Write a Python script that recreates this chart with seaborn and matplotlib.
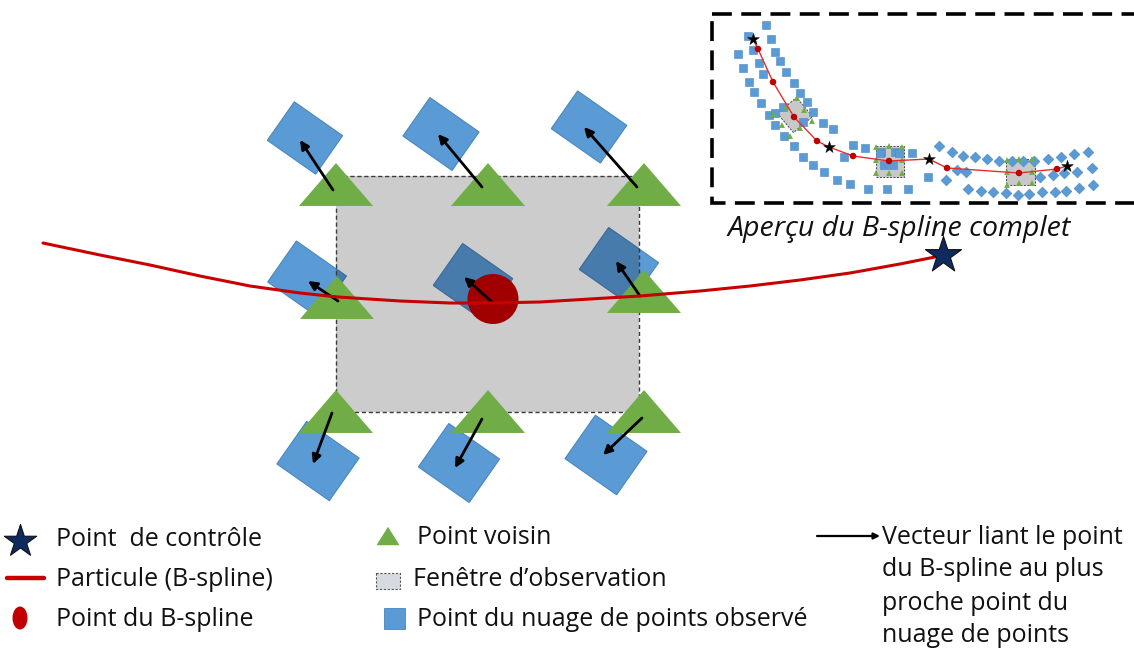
import numpy as np
import pandas as pd
import matplotlib
matplotlib.use("Agg")
import matplotlib.pyplot as plt
from matplotlib.patches import Rectangle, Ellipse
import seaborn as sns

sns.set_theme(style="white")
plt.rcParams["font.family"] = ["Open Sans", "DejaVu Sans"]

# ---------------- data (pixel-space coordinates) ----------------
# observation window
win_x0, win_y0, win_x1, win_y1 = 336, 176, 639, 412

# neighbour points (green triangles)
tri_x = [336, 488, 644, 337, 644, 336, 488, 644]
tri_y = [184.5, 184.5, 184.5, 297.5, 291.5, 411.5, 411.5, 411.5]

# observed point-cloud points (blue rotated squares): centre, width, height
sq_x = [305, 441, 589, 307, 473, 619, 318, 459, 606]
sq_y = [138, 134, 127, 279, 282, 266, 461, 463, 455]
sq_w = [59, 60, 60, 61, 61, 61, 64, 62, 63]
sq_h = [47, 47, 46, 50, 51, 51, 52, 53, 53]
sq_angle = [35, 35, 35, 35, 35, 35, 35, 35, 35]

# vectors from B-spline / neighbour point to nearest cloud point
arr_x0 = [333, 482, 637, 338, 492, 640, 332, 482, 642]
arr_y0 = [190, 187, 187, 301, 302, 296, 413, 419, 418]
arr_x1 = [300, 438, 584, 308, 464, 616, 313, 455, 603]
arr_y1 = [140, 134, 127, 281, 277, 261, 464, 468, 455]

# particle (B-spline) curve
curve_x = [43, 100, 150, 200, 250, 300, 338, 400, 450, 492, 540, 590, 640, 700, 750,
           800, 850, 900, 935]
curve_y = [243, 255, 265, 276, 286, 293, 297, 301, 303, 303, 302, 299, 296, 291, 286,
           280, 273, 264, 257]

# B-spline point and control point
bsp_x, bsp_y = 493, 299
ctrl_x, ctrl_y = [943], [255]

# ---------------- inset data ----------------
ins_curve_x = [753, 758, 773, 794, 817, 829, 853, 889, 929, 947, 1019, 1057, 1067]
ins_curve_y = [39, 49, 82, 117, 141, 147, 156, 161, 159, 168, 173, 169, 166]
ins_star_x = [753, 829, 929, 1067]
ins_star_y = [39, 147, 159, 166]
ins_dot_x = [758, 773, 794, 817, 853, 889, 947, 1019, 1057]
ins_dot_y = [49, 82, 117, 141, 156, 161, 168, 173, 169]

ins_sq_x = [766, 771, 775, 780, 786, 794, 800, 807, 813, 823, 833, 853, 865, 881, 895, 912,
            738, 748, 753, 743, 759, 749, 763, 754, 761, 769, 775, 784, 794, 803, 813, 824,
            837, 850, 868, 887, 908, 928, 844, 880, 899, 884, 893, 783, 775, 803]
ins_sq_y = [25, 39, 52, 61, 72, 83, 93, 102, 112, 123, 129, 145, 148, 152, 152, 153,
            54, 36, 50, 68, 63, 82, 74, 92, 103, 115, 125, 136, 146, 157, 165, 172,
            180, 184, 189, 189, 189, 177, 157, 153, 153, 165, 165, 107, 113, 122]
ins_dm_x = [939, 952, 963, 975, 987, 999, 1012, 1023, 1034, 1048, 1061, 1074, 1088,
            957, 966, 1040, 1053, 1064, 1077, 1092,
            946, 968, 981, 993, 1006, 1018, 1029, 1042, 1055, 1066, 1079, 1093]
ins_dm_y = [146, 152, 156, 157, 159, 161, 161, 161, 161, 159, 157, 154, 152,
            170, 172, 177, 175, 173, 172, 168,
            180, 189, 191, 192, 193, 195, 194, 192, 192, 191, 188, 185]
ins_tri_x = [876, 889, 902, 876, 889, 902, 876, 902,
             797, 804, 812, 800, 790, 782, 773, 786,
             1007, 1019, 1032, 1007, 1019, 1032, 1032, 1007]
ins_tri_y = [147, 146, 147, 173, 173, 173, 160, 160,
             98, 110, 121, 128, 136, 125, 114, 107,
             160, 159, 159, 185, 183, 183, 172, 172]
# inset windows: centre x, centre y, size, angle
ins_win_x = [795, 890, 1020]
ins_win_y = [115, 161, 172]
ins_win_w = [25, 28, 29]
ins_win_h = [25, 31, 26]
ins_win_a = [-40, 0, 0]

# ---------------- text ----------------
inset_title = "Aperçu du B-spline complet"
legend_labels = ["Point  de contrôle", "Particule (B-spline)", "Point du B-spline",
                 "Point voisin", "Fenêtre d’observation", "Point du nuage de points observé"]
vector_label = ["Vecteur liant le point", "du B-spline au plus", "proche point du", "nuage de points"]

# ---------------- colours ----------------
BLUE = "#5B9BD5"
BLUE_EDGE = "#4A86BE"
BLUE_DARK = "#477BAC"
GREEN = "#70AD47"
GRAY = "#CCCCCC"
RED = "#C80000"
DARKRED = "#A00000"
NAVY = "#0E2A5E"

fig = plt.figure(figsize=(11.34, 6.55), dpi=100)
ax = fig.add_axes([0, 0, 1, 1])
ax.set_xlim(0, 1134)
ax.set_ylim(655, 0)
ax.axis("off")

# observation window
win = Rectangle((win_x0, win_y0), win_x1 - win_x0, win_y1 - win_y0,
                facecolor=GRAY, edgecolor="none", zorder=1)
ax.add_patch(win)
win_edge = Rectangle((win_x0, win_y0), win_x1 - win_x0, win_y1 - win_y0,
                     facecolor="none", edgecolor="#3a3a3a", lw=1.0, ls=(0, (3, 2)), zorder=2.6)
ax.add_patch(win_edge)

# blue squares
clip_rect = Rectangle((win_x0, win_y0), win_x1 - win_x0, win_y1 - win_y0,
                      transform=ax.transData, facecolor="none", edgecolor="none")
for cx, cy, w, h, a in zip(sq_x, sq_y, sq_w, sq_h, sq_angle):
    r = Rectangle((cx - w / 2, cy - h / 2), w, h, angle=a, rotation_point="center",
                  facecolor=BLUE, edgecolor=BLUE_EDGE, lw=0.8, zorder=2)
    ax.add_patch(r)
    r2 = Rectangle((cx - w / 2, cy - h / 2), w, h, angle=a, rotation_point="center",
                   facecolor=BLUE_DARK, edgecolor="#3f6d99", lw=0.8, zorder=2.5)
    ax.add_patch(r2)
    r2.set_clip_path(clip_rect)

# green triangles (flat triangles)
flat_tri = [(-1, -0.58), (1, -0.58), (0, 0.58)]
df_tri = pd.DataFrame({"x": tri_x, "y": tri_y})
sns.scatterplot(data=df_tri, x="x", y="y", marker=flat_tri, s=2840, color=GREEN,
                edgecolor="none", linewidth=0, ax=ax, zorder=3, legend=False)

# B-spline point
ax.add_patch(Ellipse((bsp_x, bsp_y), 51, 50, facecolor=DARKRED, edgecolor="none", zorder=3.5))

# vectors
for x0, y0, x1, y1 in zip(arr_x0, arr_y0, arr_x1, arr_y1):
    ax.annotate("", xy=(x1, y1), xytext=(x0, y0),
                arrowprops=dict(arrowstyle="-|>", color="black", lw=2.0,
                                mutation_scale=13, shrinkA=0, shrinkB=0), zorder=4)

# particle curve
df_curve = pd.DataFrame({"x": curve_x, "y": curve_y})
sns.lineplot(data=df_curve, x="x", y="y", sort=False, estimator=None, color=RED,
             lw=2.2, ax=ax, zorder=5)

# control point
sns.scatterplot(x=ctrl_x, y=ctrl_y, marker="*", s=750, color=NAVY, edgecolor="#111111",
                linewidth=0.8, ax=ax, zorder=6, legend=False)

# ---------------- inset ----------------
ax.add_patch(Rectangle((712, 14), 440, 189, facecolor="none", edgecolor="black",
                       lw=2.6, ls=(0, (5.5, 2.6)), zorder=6, clip_on=True))
for cx, cy, w, h, a in zip(ins_win_x, ins_win_y, ins_win_w, ins_win_h, ins_win_a):
    ax.add_patch(Rectangle((cx - w / 2, cy - h / 2), w, h, angle=a, rotation_point="center",
                           facecolor="#C8C8C8", edgecolor="#444444", lw=0.7,
                           ls=(0, (2, 1.5)), zorder=6))
sns.scatterplot(x=ins_sq_x, y=ins_sq_y, marker="s", s=30, color=BLUE, edgecolor=BLUE_EDGE,
                linewidth=0.4, ax=ax, zorder=6.5, legend=False)
sns.scatterplot(x=ins_dm_x, y=ins_dm_y, marker="D", s=30, color=BLUE, edgecolor=BLUE_EDGE,
                linewidth=0.4, ax=ax, zorder=6.5, legend=False)
sns.scatterplot(x=ins_tri_x, y=ins_tri_y, marker="^", s=18, color=GREEN, edgecolor="none",
                linewidth=0, ax=ax, zorder=6.6, legend=False)
sns.lineplot(x=ins_curve_x, y=ins_curve_y, sort=False, estimator=None, color="#E03030",
             lw=1.0, ax=ax, zorder=6.7)
sns.scatterplot(x=ins_dot_x, y=ins_dot_y, marker="o", s=22, color="#C00000", edgecolor="none",
                linewidth=0, ax=ax, zorder=6.8, legend=False)
sns.scatterplot(x=ins_star_x, y=ins_star_y, marker="*", s=80, color="black", edgecolor="black",
                linewidth=0.3, ax=ax, zorder=6.9, legend=False)
ax.text(899, 229, inset_title, fontsize=20.5, style="italic", ha="center", va="center",
        color="#111111", zorder=7)

# ---------------- legend ----------------
FS = 18
row_y = [540, 579, 619]
sns.scatterplot(x=[20], y=[541], marker="*", s=600, color=NAVY, edgecolor="#111111",
                linewidth=0.8, ax=ax, zorder=6, legend=False)
sns.lineplot(x=[7, 44], y=[578, 578], color=RED, lw=3.2, ax=ax, zorder=6)
ax.add_patch(Ellipse((20, 618), 15, 23, facecolor="#C00000", edgecolor="none", zorder=6))
for lab, yy in zip(legend_labels[:3], row_y):
    ax.text(56, yy, lab, fontsize=FS, va="center", ha="left", color="#111111")

leg_tri = [(-1, -0.8), (1, -0.8), (0, 0.8)]
sns.scatterplot(x=[388], y=[536], marker=leg_tri, s=275, color=GREEN, edgecolor="none",
                linewidth=0, ax=ax, zorder=6, legend=False)
ax.add_patch(Rectangle((376, 573), 24, 16, facecolor="#D6DBE2", edgecolor="#555555",
                       lw=0.8, ls=(0, (2, 1.5)), zorder=6))
ax.add_patch(Rectangle((384, 608), 21, 21, facecolor=BLUE, edgecolor=BLUE_EDGE, lw=0.6, zorder=6))
ax.text(417, 537, legend_labels[3], fontsize=FS, va="center", ha="left", color="#111111")
ax.text(413, 579, legend_labels[4], fontsize=FS, va="center", ha="left", color="#111111")
ax.text(417, 619, legend_labels[5], fontsize=FS, va="center", ha="left", color="#111111")

ax.annotate("", xy=(880, 536), xytext=(817, 536),
            arrowprops=dict(arrowstyle="-|>", color="black", lw=1.6, mutation_scale=9,
                            shrinkA=0, shrinkB=0), zorder=6)
for i, lab in enumerate(vector_label):
    ax.text(882, 537 + 33 * i, lab, fontsize=FS, va="center", ha="left", color="#111111")

fig.savefig("out.png", dpi=100)
